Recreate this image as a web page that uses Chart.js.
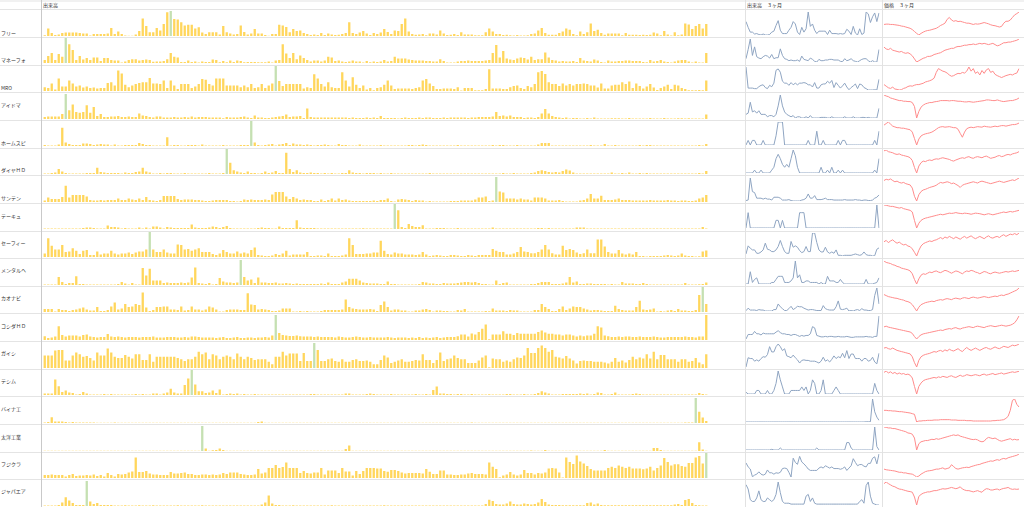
<!DOCTYPE html>
<html>
<head>
<meta charset="utf-8">
<script src="https://cdn.jsdelivr.net/npm/chart.js@4.4.0/dist/chart.umd.min.js"></script>
<style>
  body { margin: 0; width: 1024px; height: 507px; overflow: hidden; background: #fff; position: relative;
         font-family: 'Noto Sans CJK JP', 'Noto Sans', sans-serif; }
  .abs { position: absolute; }
  .hline { position: absolute; left: 0; width: 1024px; height: 1px; background: #e4e4e4; }
  .vline { position: absolute; top: 0; width: 1px; height: 507px; background: #e2e2e2; }
  .lbl { position: absolute; left: 1px; font-size: 5px; line-height: 6px; color: #333; white-space: nowrap; }
  .hdr { position: absolute; top: 2px; font-size: 5px; line-height: 6px; color: #333; white-space: nowrap; }
</style>
</head>
<body>
<script>
// row names (銘柄) and where their labels sit
const rowNames = ['フリー', 'マネーフォ', 'MRO', 'アイドマ', 'ホームスピ', 'ダイヤＨＤ', 'サンテン', 'テーキュ', 'セーフィー',
  'メンタルヘ', 'カオナビ', 'コシダＨＤ', 'ガイシ', 'テシム', 'バイナ工', '太洋工業', 'フジクラ', 'ジャパエア'];
const labelY = [33, 60, 88, 105, 143, 170, 198, 216, 243, 270, 298, 326, 353, 381, 409, 437, 464, 491];
// index of the green (highlighted) bar in each row
const highlight = [36, 6, 66, 6, 59, 52, 129, 100, 30, 56, 188, 66, 77, 42, 186, 45, 189, 12];

// 出来高 (volume), relative, 190 trading days per row
const vol01 = [3,30,12,4,6,12,14,14,14,14, 12,10,10,2,8,8,8,8,10,32, 8,18,8,2,1,1,6,20,70,40, 15,15,32,22,48,95,100,68,66,55,
  42,45,45,30,35,14,8,15,15,15, 6,40,15,10,6,8,42,16,6,10, 28,10,10,4,1,8,8,45,42,36, 15,28,20,22,12,8,4,6,4,12,
  4,10,6,4,5,8,12,55,12,8, 14,20,10,4,12,
  8,14,28,16,8,22,20,48,70,18, 8,5,6,8,3,10,10,6,22,10, 4,5,8,4,15,6,6,6,3,3, 3,15,30,18,8,8,4,5,3,2,
  4,2,2,3,8,10,22,32,12,5, 5,5,12,18,30,25,8,3,18,8, 15,50,20,25,12,5,10,10,10,10, 3,12,5,5,5,4,5,4,5,14,
  10,3,20,6,2,15,3,6,50,46, 28,40,48,30,48];
const vol02 = [12,28,40,12,36,25,100,75,52,12, 28,14,20,12,22,22,8,20,20,12, 10,10,2,6,12,15,15,10,12,14, 12,5,6,6,8,15,40,25,22,4,
  4,10,4,6,2,6,4,4,14,12, 3,8,3,10,4,10,8,3,4,4, 4,3,3,3,6,2,10,12,75,38, 20,40,15,30,20,12,6,10,10,6,
  10,25,22,8,10,6,4,6,10,6, 6,2,8,3,6,
  4,6,12,6,8,25,18,18,18,14, 12,10,10,10,8,8,6,6,15,8, 2,2,2,6,8,8,10,8,8,8, 8,10,12,40,72,22,48,18,14,12,
  18,22,20,14,25,12,15,15,42,22, 12,10,6,8,6,6,8,4,20,10, 8,6,14,10,4,2,10,6,6,8, 8,10,10,8,8,8,4,3,12,6,
  8,12,6,4,2,6,10,12,12,6, 2,6,2,2,40];
const vol03 = [15,12,30,6,50,18,18,42,30,18, 22,14,18,12,14,10,12,12,32,35, 22,82,70,25,15,22,28,32,35,35, 52,30,30,28,42,12,42,22,8,28,
  28,28,12,18,28,48,45,28,22,50, 50,50,22,22,22,22,15,22,15,28, 12,15,28,12,22,30,100,40,20,28, 28,28,28,28,10,15,12,67,50,28,
  18,35,15,12,12,75,42,18,55,25, 12,22,6,12,3,
  12,15,25,42,22,8,10,10,10,10, 8,12,15,42,48,30,20,8,8,10, 10,10,8,15,2,12,12,12,3,3, 3,8,87,10,10,10,8,8,15,20,
  22,12,8,20,15,28,75,80,68,35, 28,28,20,30,22,28,22,28,28,30, 28,22,22,14,30,10,10,22,25,25, 35,28,38,12,30,20,10,18,28,14,
  4,12,18,25,8,25,22,12,8,3, 3,3,4,3,42];
const vol04 = [8,10,10,10,10,20,100,35,58,28, 25,28,55,25,48,12,20,8,8,10, 10,12,8,8,10,8,8,22,14,12, 8,6,10,10,6,6,6,8,6,6,
  8,6,10,6,8,8,8,6,6,6, 6,3,8,6,6,6,8,10,6,4, 14,6,6,4,4,6,8,10,12,18, 8,10,10,12,4,42,8,6,6,6,
  6,6,6,6,6,6,6,4,6,4, 4,4,6,4,6,
  4,12,4,4,4,4,2,4,6,4, 4,4,6,4,6,6,4,4,4,6, 4,6,6,6,6,6,4,6,6,8, 8,8,8,10,28,12,14,10,14,8,
  8,8,4,6,6,4,8,22,40,22, 12,8,6,4,6,2,4,4,2,2, 4,2,6,2,2,2,2,3,3,3, 2,2,4,2,2,2,2,2,4,2,
  2,2,4,2,2,2,3,3,2,3, 2,2,2,2,18];
const vol05 = [4,2,2,2,6,73,14,8,4,4, 4,10,10,8,4,6,8,6,6,2, 6,2,2,4,4,4,4,12,8,4, 4,2,2,2,2,35,2,4,4,2,
  2,4,4,4,2,6,2,2,2,2, 2,4,2,2,2,2,4,4,4,100, 14,4,2,4,6,8,2,6,8,12, 4,10,6,6,4,6,4,2,4,4,
  6,4,2,2,8,4,4,2,2,2, 6,2,2,2,2,
  2,4,2,2,2,2,2,2,2,4, 4,2,4,6,4,2,2,2,2,2, 2,2,2,4,2,2,2,2,2,2, 2,2,2,4,2,4,4,2,2,2,
  4,2,2,2,2,2,6,12,12,12, 2,2,2,2,2,2,2,2,2,2, 2,4,2,2,2,8,2,2,4,2, 2,2,2,2,2,4,2,4,4,2,
  2,2,2,2,2,2,2,2,2,2, 2,2,4,2,8];
const vol06 = [2,2,4,6,20,10,4,2,2,2, 2,2,4,4,4,25,8,6,4,4, 4,4,2,6,4,4,8,10,25,10, 6,2,2,4,2,4,4,2,2,2,
  4,2,2,2,2,2,2,4,2,2, 2,4,100,45,15,10,6,4,10,4, 4,2,4,10,4,6,12,4,4,85, 20,8,15,6,4,4,6,4,4,2,
  4,2,4,2,2,4,4,15,6,4, 4,2,4,4,4,
  2,4,2,2,4,2,2,2,2,2, 2,2,2,2,2,4,2,2,2,2, 2,2,2,2,2,2,2,2,2,2, 2,2,2,2,2,2,4,2,2,4,
  2,2,2,2,4,6,12,15,12,8, 6,8,6,12,18,14,6,2,2,2, 2,2,2,2,2,2,2,6,2,2, 4,2,6,2,2,4,2,4,2,2,
  2,2,2,2,2,2,2,2,2,2, 2,2,4,2,12];
const vol07 = [6,18,12,12,12,20,65,18,28,28, 28,28,22,8,6,6,8,6,8,8, 8,14,8,8,14,10,8,14,8,20, 8,6,4,8,24,24,24,24,12,8,
  10,10,10,8,8,6,4,4,6,8, 8,8,8,4,4,2,4,10,8,10, 8,8,8,10,8,30,40,40,40,22, 12,20,14,8,10,8,8,4,4,10,
  4,8,14,6,14,8,10,6,4,4, 4,4,4,4,6,
  4,8,8,14,4,2,10,12,10,8, 4,8,6,6,2,4,2,2,2,2, 2,4,4,4,6,6,6,6,10,18, 18,22,4,6,100,42,38,14,14,14,
  10,14,10,10,6,18,18,18,14,6, 6,6,8,4,2,2,2,2,6,8, 14,32,14,14,25,8,8,8,10,14, 8,8,8,6,6,6,6,6,8,6,
  6,6,6,8,6,6,4,6,6,4, 4,6,14,18,28];
const vol08 = [2,2,2,2,2,2,2,2,2,2, 2,4,6,6,4,2,2,2,14,8, 8,6,2,4,2,2,2,6,2,6, 2,10,10,6,2,8,6,4,4,4,
  4,4,18,6,4,4,4,6,10,8, 4,8,12,4,2,2,2,2,2,2, 2,4,6,4,4,2,2,10,4,4, 4,4,35,6,4,4,4,4,2,2,
  2,2,2,2,2,2,2,2,2,2, 2,3,2,2,2,
  2,2,2,2,2,100,75,8,4,20, 12,8,8,15,2,2,2,4,4,4, 2,2,2,4,2,2,2,2,2,2, 2,2,2,6,2,2,2,2,2,2,
  2,2,2,2,2,2,4,4,2,4, 2,2,2,2,2,2,2,6,6,6, 2,2,2,2,2,2,2,2,2,2, 2,2,2,2,2,2,2,2,2,2,
  2,2,2,2,2,2,2,2,2,2, 2,2,2,8,2];
const vol09 = [14,75,45,30,30,48,20,22,35,25, 12,25,28,8,8,22,10,14,14,25, 14,10,14,14,18,12,18,22,22,30, 100,30,20,20,30,18,14,14,50,48,
  30,32,25,30,35,20,20,20,12,8, 14,28,20,14,14,22,14,18,14,28, 38,8,6,4,4,6,12,8,14,25, 6,10,10,10,10,20,4,4,6,6,
  4,14,4,4,4,6,10,75,48,12, 12,12,14,14,18,
  18,65,25,12,10,18,14,14,10,10, 10,8,10,20,10,4,6,8,6,4, 4,8,8,6,4,4,8,6,4,8, 8,8,8,32,25,20,20,10,10,14,
  20,40,22,20,15,15,20,30,48,30, 15,10,10,45,28,32,28,18,12,15, 30,15,15,70,70,42,20,14,14,28, 14,10,14,10,20,4,4,2,4,4,
  4,4,6,8,6,4,6,14,6,4, 4,2,3,22,26];
const vol10 = [2,2,2,2,32,12,4,8,8,35, 4,4,2,2,2,2,2,2,2,2, 2,4,12,6,2,8,2,2,68,38, 65,18,18,18,8,10,8,8,8,10,
  8,10,30,70,8,6,4,8,2,4, 28,14,10,10,8,10,100,32,18,22, 8,30,10,10,8,8,10,6,6,8, 6,4,6,4,4,4,4,4,4,6,
  4,10,4,4,4,10,14,25,25,25, 18,10,8,6,6,
  6,4,4,14,4,4,2,2,2,2, 2,2,4,12,10,6,6,4,4,8, 6,6,6,8,10,12,12,10,12,8, 4,4,2,2,18,4,8,10,2,2,
  2,2,2,2,4,4,8,12,12,12, 4,4,4,6,10,32,10,14,4,4, 6,6,4,4,4,4,2,4,2,2, 12,6,6,6,4,4,8,4,2,2,
  2,2,2,2,2,2,2,2,8,2, 2,2,3,4,10];
const vol11 = [12,12,12,2,12,8,8,4,8,10, 14,18,10,6,6,20,4,4,8,22, 38,10,14,32,20,22,32,28,78,18, 4,8,20,20,22,22,10,10,8,22,
  6,8,22,10,10,6,10,22,18,10, 2,2,8,10,10,10,8,8,75,30, 28,10,12,10,8,4,4,6,14,14, 14,2,2,4,2,4,2,2,2,4,
  8,8,8,8,8,10,50,20,14,12, 10,10,10,12,10,
  4,28,42,20,6,10,10,6,6,2, 2,6,6,10,12,8,2,6,6,4, 4,2,2,8,6,12,2,2,2,2, 2,4,3,14,6,6,6,4,8,6,
  6,2,2,2,2,8,8,32,20,12, 4,4,12,22,8,14,22,20,20,14, 10,6,8,8,6,4,4,4,25,12, 8,6,6,6,20,45,10,8,10,14,
  2,4,2,6,8,4,12,6,6,4, 4,8,68,100,32];
const vol12 = [15,8,10,14,55,20,14,18,18,18, 14,20,22,14,12,10,12,12,24,14, 12,14,12,10,12,12,12,10,12,12, 12,14,10,10,10,12,12,12,10,10,
  12,10,14,14,12,10,10,10,10,8, 10,12,8,8,10,12,8,8,10,10, 8,10,10,12,10,18,100,28,20,18, 16,16,18,15,14,14,14,12,14,12,
  12,12,12,10,14,12,10,10,12,14, 12,10,10,12,10,
  10,10,10,12,10,8,10,10,10,8, 10,8,12,8,10,8,10,12,8,10, 12,12,12,15,22,22,14,26,22,32, 45,62,3,22,22,22,35,25,25,20,
  28,25,25,25,25,25,32,38,30,25, 25,22,22,18,22,22,18,14,18,15, 18,18,25,55,50,18,15,12,12,14, 12,14,14,12,12,14,12,12,12,14,
  12,10,10,12,12,12,12,12,14,12, 12,10,14,14,100];
const vol13 = [50,50,50,70,72,72,30,30,50,62, 55,45,48,40,30,62,50,50,78,62, 45,40,40,52,45,38,55,55,32,32, 55,25,45,45,45,45,45,45,40,35,
  28,35,35,45,65,55,62,35,55,50, 35,45,50,45,35,58,45,35,45,40, 32,35,35,35,25,15,45,45,65,50, 58,58,58,28,60,28,28,100,72,28,
  28,35,38,28,25,35,25,25,32,35, 28,28,30,25,15,
  15,32,50,42,20,25,30,35,25,25, 28,32,30,55,32,32,20,32,62,28, 35,38,50,40,35,35,20,20,20,30, 42,50,3,38,35,35,25,30,25,35,
  42,40,50,80,60,60,80,90,80,65, 72,45,42,38,48,38,30,18,28,30, 28,28,25,25,25,22,18,25,40,25, 30,22,32,45,35,42,38,55,38,65,
  35,52,52,35,35,35,25,35,35,25, 28,40,22,15,55];
const vol14 = [6,6,6,62,35,12,18,10,8,2, 4,12,6,2,2,2,2,4,2,4, 2,2,2,2,2,2,4,2,4,2, 2,6,6,2,6,10,25,10,6,6,
  40,66,100,42,15,15,8,10,18,8, 22,2,4,6,4,6,2,4,2,2, 4,2,2,2,2,2,2,2,2,2, 2,2,2,2,2,2,4,4,2,2,
  2,2,2,2,2,2,6,6,2,2, 2,2,4,6,4,
  2,2,2,2,4,2,2,2,2,2, 2,4,2,2,4,2,20,34,6,6, 4,4,2,4,4,2,2,4,2,2, 2,2,3,2,2,2,2,4,4,2,
  2,2,4,2,2,4,8,15,10,6, 2,2,2,4,4,4,4,4,6,4, 6,2,4,10,8,2,2,4,10,2, 2,2,2,4,6,4,2,2,2,2,
  2,2,2,2,2,2,2,2,2,2, 2,2,8,4,2];
const vol15 = [2,4,23,6,6,6,4,2,4,2, 2,2,2,2,2,1,1,1,1,1, 2,1,1,1,1,1,1,1,1,1, 1,1,1,1,1,1,1,1,1,1,
  1,1,1,1,1,1,1,1,1,1, 1,1,1,1,1,1,1,1,1,1, 1,4,6,1,1,1,1,1,1,1, 1,1,1,1,1,1,1,1,1,1,
  1,1,1,1,1,1,1,1,1,1, 1,1,1,1,1,
  1,1,1,1,1,1,1,1,1,1, 1,1,1,1,1,1,1,1,1,1, 1,1,1,1,1,1,1,2,1,1, 1,1,1,1,1,1,1,1,1,1,
  1,1,1,1,1,1,1,1,1,1, 1,1,1,1,1,1,1,1,1,1, 1,1,1,1,1,1,1,1,1,1, 1,1,1,1,1,1,1,1,1,1,
  1,1,1,1,1,1,1,1,2,2, 2,100,45,22,8];
const vol16 = [1,1,1,1,1,1,1,1,1,1, 1,1,1,1,1,1,1,1,1,1, 1,1,1,1,1,1,1,1,1,1, 1,1,1,1,1,1,1,1,1,1,
  1,1,1,1,1,100,10,1,3,4, 10,4,1,1,1,1,1,1,1,1, 1,1,1,1,1,1,1,1,1,1, 1,1,1,1,1,1,1,1,1,1,
  1,1,1,1,1,1,8,22,1,1, 1,1,1,1,1,
  1,1,1,1,1,1,1,1,1,1, 1,1,1,1,1,1,1,1,1,1, 1,1,1,1,1,1,1,1,1,1, 1,1,1,1,1,1,1,1,1,1,
  1,1,1,1,2,1,1,1,4,1, 1,1,1,1,1,1,1,1,1,1, 1,1,1,1,1,4,1,1,1,1, 1,1,1,1,1,1,1,1,1,12,
  12,4,1,1,1,1,1,1,1,1, 1,1,35,6,1];
const vol17 = [12,12,14,12,12,12,6,12,16,8, 10,10,12,10,14,8,12,6,20,12, 6,16,14,16,22,26,82,24,24,28, 18,14,14,12,12,12,24,18,18,20,
  22,16,16,12,12,14,14,12,14,12, 14,20,16,22,22,22,16,14,12,12, 14,36,18,22,40,40,52,40,44,62, 40,40,40,20,28,20,18,22,22,40,
  14,30,30,30,20,40,26,26,10,28, 16,28,40,40,40,
  38,38,28,25,32,32,28,22,18,20, 20,20,20,18,36,25,16,16,30,30, 14,14,12,12,14,14,18,20,16,16, 16,14,62,45,36,3,10,14,24,14,
  10,14,32,20,20,14,20,18,22,38, 40,38,22,2,82,64,56,90,66,58, 48,36,30,30,30,30,40,45,40,50, 45,40,45,38,38,38,35,38,45,30,
  40,50,80,64,50,55,55,48,45,60, 60,82,88,58,100];
const vol18 = [2,2,2,2,4,14,35,22,12,4, 4,4,100,18,8,12,4,4,4,4, 2,2,2,3,2,2,2,3,2,2, 2,3,2,2,2,2,2,2,3,2,
  2,2,2,2,2,3,2,2,2,2, 2,2,2,2,2,2,2,2,2,2, 2,2,6,14,42,10,4,4,2,2, 2,3,2,2,2,2,2,2,2,2,
  2,2,3,2,2,2,2,2,2,2, 2,2,2,2,2,
  2,2,3,2,2,2,2,2,2,2, 2,2,2,2,2,2,2,2,2,2, 2,2,2,2,2,2,2,2,2,2, 2,8,25,20,8,6,6,10,18,8,
  6,6,10,8,6,8,14,28,16,6, 4,4,4,3,3,3,3,3,3,3, 12,14,6,10,4,3,3,3,3,3, 3,3,3,3,3,3,3,3,3,3,
  3,3,3,3,3,6,8,4,24,28, 12,4,3,2,2];

// 価格 (price) for the last 3 months, relative, 63 trading days per row
const price01 = [36,37,37,36,36,35,34,33,31,30, 28,26,24,20,14,8,3,8,12,15, 17,18,20,22,24,28,33,36,40,52, 58,50,46,48,45,46,44,42,40,40, 38,36,38,37,38,40,42,40,38,35, 33,32,30,28,30,40,46,46,50,58, 66,70,75];
const price02 = [52,46,44,48,42,40,38,36,38,34, 32,34,30,24,14,4,8,12,16,18, 22,22,24,28,30,32,34,38,42,44, 46,48,48,52,54,54,56,58,58,60, 60,62,60,62,64,62,64,62,60,62, 64,60,56,58,62,66,66,68,68,70, 72,74,78];
const price03 = [20,15,10,8,12,6,5,3,4,8, 10,14,16,15,18,20,20,22,24,28, 30,32,35,40,58,70,66,62,60,56, 50,46,48,52,55,54,58,56,62,75, 62,70,55,60,50,64,55,66,70,58, 62,52,48,45,42,45,48,50,52,50, 54,56,70];
const price04 = [75,72,70,66,64,62,60,58,58,56, 56,55,55,52,40,5,25,38,44,48, 50,52,52,54,55,56,58,58,58,58, 57,58,58,57,56,56,55,54,54,55, 54,53,54,55,56,57,58,60,60,59, 58,58,60,58,56,55,56,57,58,58, 60,62,66];
const price05 = [82,88,94,86,78,75,72,72,70,70, 68,66,64,55,30,5,28,40,45,48, 50,52,55,60,66,72,75,76,74,75, 76,74,72,72,66,50,35,55,68,72, 74,72,74,76,75,74,78,76,75,74, 76,78,76,78,80,80,78,80,82,84, 84,86,90];
const price06 = [85,88,82,80,78,74,72,74,70,68, 66,64,60,50,25,5,30,42,48,46, 50,52,50,54,56,55,58,60,58,56, 54,50,48,52,55,58,60,58,62,64, 60,58,62,64,62,60,64,66,62,58, 60,62,66,68,64,66,70,72,70,74, 76,78,82];
const price07 = [70,74,72,75,70,66,68,64,62,64, 60,58,56,46,20,5,25,35,40,42, 45,48,50,52,55,60,64,62,64,66, 64,60,62,58,54,48,55,58,60,62, 64,66,64,62,66,68,66,64,62,60, 62,64,66,68,66,64,66,68,70,72, 70,74,78];
const price08 = [85,84,82,80,80,78,76,74,76,72, 70,68,66,60,30,3,20,30,35,38, 40,42,44,46,48,50,52,50,52,54, 56,55,56,58,56,55,54,56,55,54, 52,54,56,55,54,52,50,52,54,52, 50,52,54,56,58,60,58,60,62,60, 62,64,66];
const price09 = [55,60,52,58,62,55,50,54,48,44, 46,40,38,30,18,5,25,40,48,52, 55,58,56,60,62,66,70,65,72,68, 74,70,66,72,68,64,70,74,68,72, 76,70,66,70,74,70,66,72,76,70, 68,72,74,70,76,80,74,78,82,80, 84,80,86];
const price10 = [85,80,78,76,72,70,66,64,60,58, 56,54,50,40,20,4,22,35,40,38, 42,46,44,48,50,46,44,48,52,50, 46,42,46,50,48,44,40,46,50,48, 52,50,46,44,40,44,48,46,42,40, 44,46,44,42,44,46,48,46,48,50, 48,50,52];
const price11 = [70,66,62,60,58,56,55,52,50,48, 44,42,38,30,18,5,20,30,34,38, 40,42,44,42,46,48,50,48,52,54, 52,50,54,56,54,52,56,58,56,54, 58,60,58,56,58,60,62,60,58,60, 62,64,62,66,68,66,70,72,76,80, 84,88,96];
const price12 = [55,58,54,52,50,48,46,44,42,40, 38,36,34,28,15,5,15,22,26,28, 30,32,34,36,38,40,42,40,44,46, 48,46,50,52,48,46,50,52,54,56, 54,52,56,58,56,54,52,56,58,60, 58,56,58,60,62,60,58,60,62,66, 72,84,100];
const price13 = [70,72,68,66,70,66,62,60,58,56, 54,52,50,40,20,5,28,40,45,48, 50,52,55,58,56,60,62,58,64,60, 66,62,60,64,68,62,58,66,72,66, 62,66,70,66,62,66,70,72,68,66, 70,74,70,68,72,76,74,72,76,80, 78,80,84];
const price14 = [80,85,78,82,76,80,74,78,74,76, 72,74,70,60,30,3,30,42,50,54, 56,58,60,62,60,64,62,66,64,62, 66,68,64,62,66,70,66,68,72,70, 68,70,72,70,68,72,74,70,72,74, 76,72,74,76,78,74,76,78,80,82, 80,82,84];
const price15 = [40,40,39,39,38,38,37,36,36,35, 34,33,32,30,28,5,8,8,9,9, 10,10,10,11,11,11,12,12,12,12, 12,11,11,11,10,10,10,10,9,9, 9,8,8,8,8,8,8,8,8,8, 9,9,10,10,11,12,16,22,40,70, 74,58,50];
const price16 = [75,74,72,72,70,70,68,66,64,62, 60,56,55,52,40,2,22,28,30,32, 32,34,36,35,38,36,38,40,42,44, 46,48,50,48,50,46,44,42,40,38, 36,35,36,34,30,28,30,38,42,40, 38,40,36,32,30,32,34,36,38,34, 36,34,35];
const price17 = [30,28,27,26,25,24,22,20,20,18, 18,16,15,14,10,5,8,14,18,22, 24,25,26,28,30,30,32,34,30,32, 34,44,38,32,30,32,34,35,36,35, 38,40,42,44,45,48,50,52,54,56, 55,58,60,58,62,64,62,66,68,70, 72,74,78];
const price18 = [72,77,72,68,64,62,58,55,54,52, 50,48,47,45,30,5,32,38,42,44, 46,46,48,50,50,52,54,56,55,56, 58,60,58,56,58,62,55,52,50,50, 48,46,48,50,47,45,52,56,55,52, 52,54,55,52,55,57,58,60,56,54, 55,54,55];

const volRows = [vol01, vol02, vol03, vol04, vol05, vol06, vol07, vol08, vol09,
  vol10, vol11, vol12, vol13, vol14, vol15, vol16, vol17, vol18];
const priceRows = [price01, price02, price03, price04, price05, price06, price07, price08, price09,
  price10, price11, price12, price13, price14, price15, price16, price17, price18];

const RECENT = 63; // 3ヶ月 ~ 63 trading days
const ROW_H = 27.65;
const TOP = 9.3;

const YELLOW = 'rgb(255,214,92)';
const GREEN = 'rgb(197,224,178)';
const BLUE = 'rgb(143,165,194)';
const RED = 'rgb(255,140,140)';

function div(cls, styles, text) {
  const d = document.createElement('div');
  d.className = cls;
  Object.assign(d.style, styles);
  if (text) d.textContent = text;
  document.body.appendChild(d);
  return d;
}

function canvasAt(x, y, w, h) {
  const c = document.createElement('canvas');
  c.width = w;
  c.height = h;
  c.className = 'abs';
  c.style.left = x + 'px';
  c.style.top = y + 'px';
  c.style.width = w + 'px';
  c.style.height = h + 'px';
  document.body.appendChild(c);
  return c;
}

const baseOptions = {
  responsive: false,
  animation: false,
  events: [],
  plugins: { legend: { display: false }, tooltip: { enabled: false } },
};

function volumeChart(canvas, vol, hi) {
  return new Chart(canvas, {
    type: 'bar',
    data: {
      labels: vol.map((_, i) => i + 1),
      datasets: [{
        data: vol,
        backgroundColor: vol.map((_, i) => (i === hi ? GREEN : YELLOW)),
        borderWidth: 0,
        barPercentage: 0.66,
        categoryPercentage: 1,
      }],
    },
    options: {
      ...baseOptions,
      layout: { padding: 0 },
      scales: {
        x: { display: false },
        y: { display: false, min: 0, max: Math.max(...vol) },
      },
    },
  });
}

function sparkLine(canvas, values, color) {
  return new Chart(canvas, {
    type: 'line',
    data: {
      labels: values.map((_, i) => i + 1),
      datasets: [{
        data: values,
        borderColor: color,
        borderWidth: 1,
        pointRadius: 0,
        tension: 0,
        fill: false,
      }],
    },
    options: {
      ...baseOptions,
      layout: { padding: { top: 1, bottom: 1, left: 0, right: 1 } },
      scales: {
        x: { display: false },
        y: { display: false, min: Math.min(...values), max: Math.max(...values) },
      },
    },
  });
}

// frame
div('abs', { left: '0px', top: '0px', width: '1024px', height: '2px', background: '#f1f1f1' });
for (let k = 0; k <= 18; k++) {
  div('hline', { top: Math.round(TOP + k * ROW_H) + 'px' });
}
div('vline', { left: '41px', background: '#c9c9c9' });
div('vline', { left: '745px' });
div('vline', { left: '882px' });

div('hdr', { left: '43px' }, '出来高');
div('hdr', { left: '747px' }, '出来高　３ヶ月');
div('hdr', { left: '884px' }, '価格　３ヶ月');

rowNames.forEach((name, k) => {
  const top = TOP + k * ROW_H;
  div('lbl', { top: (labelY[k] - 3) + 'px' }, name);

  const vol = volRows[k];
  volumeChart(canvasAt(43, Math.round(top + 1.5), 665, 25), vol, highlight[k]);
  sparkLine(canvasAt(746, Math.round(top + 1.5), 134, 25), vol.slice(-RECENT), BLUE);
  sparkLine(canvasAt(884, Math.round(top + 1.5), 136, 25), priceRows[k], RED);
});
</script>
</body>
</html>
